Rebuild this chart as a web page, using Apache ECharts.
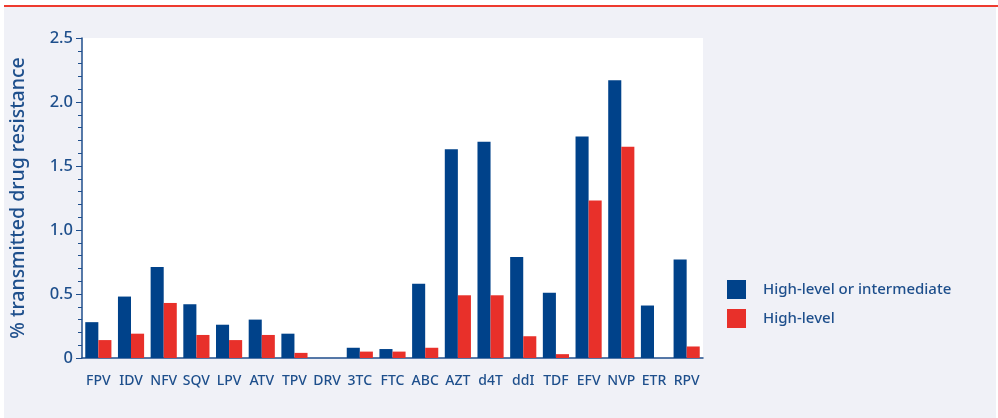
<!DOCTYPE html>
<html>
<head>
<meta charset="utf-8">
<script src="https://cdn.jsdelivr.net/npm/echarts@6/dist/echarts.min.js"></script>
<style>
html,body{margin:0;padding:0;background:#fff;width:998px;height:418px;overflow:hidden;}
#bg{position:absolute;left:4px;top:7px;width:992px;height:411px;background:#f0f1f7;}
#rl{position:absolute;left:4px;top:5px;width:994px;height:2px;background:#ee3a2e;}
#chart{position:absolute;left:0;top:0;width:998px;height:418px;}
</style>
</head>
<body>
<div id="bg"></div>
<div id="rl"></div>
<div id="chart"></div>
<script>
const categories = ['FPV','IDV','NFV','SQV','LPV','ATV','TPV','DRV','3TC','FTC','ABC','AZT','d4T','ddI','TDF','EFV','NVP','ETR','RPV'];
const highOrIntermediate = [0.28,0.48,0.71,0.42,0.26,0.30,0.19,0,0.08,0.07,0.58,1.63,1.69,0.79,0.51,1.73,2.17,0.41,0.77];
const highLevel = [0.14,0.19,0.43,0.18,0.14,0.18,0.04,0,0.05,0.05,0.08,0.49,0.49,0.17,0.03,1.23,1.65,0,0.09];
const seriesNames = ['High-level or intermediate','High-level'];
const yAxisName = '% transmitted drug resistance';

const textColor = '#1e4f8c';
const axisColor = '#1f4e8c';
const font = 'Noto Sans';
const chart = echarts.init(document.getElementById('chart'));
chart.setOption({
  backgroundColor: 'transparent',
  animation: false,
  textStyle: {fontFamily: font},
  grid: {left: 80, right: 295, top: 38, bottom: 60, show: true, backgroundColor: '#ffffff', borderWidth: 0},
  legend: {
    orient: 'vertical', left: 722, top: 275, itemWidth: 19, itemHeight: 19, itemGap: 10,
    icon: 'rect',
    textStyle: {color: textColor, fontSize: 15, fontWeight: 500, fontFamily: font, padding: [0,0,0,12]},
    data: seriesNames
  },
  xAxis: {
    type: 'category', data: categories,
    axisLine: {lineStyle: {color: axisColor, width: 1.5}},
    axisTick: {show: false},
    axisLabel: {color: textColor, fontSize: 14, fontWeight: 500, margin: 16, interval: 0, fontFamily: font}
  },
  yAxis: {
    type: 'value', min: 0, max: 2.5, interval: 0.5,
    name: yAxisName, nameLocation: 'middle', nameGap: 54,
    nameTextStyle: {color: textColor, fontSize: 19.5, fontWeight: 500, fontFamily: font},
    axisLine: {show: true, lineStyle: {color: axisColor, width: 1.5}},
    axisTick: {show: true, length: 6, lineStyle: {color: axisColor, width: 1}},
    minorTick: {show: true, splitNumber: 5, length: 4, lineStyle: {color: axisColor, width: 1}},
    splitLine: {show: false},
    axisLabel: {color: textColor, fontSize: 16.5, fontWeight: 500, margin: 9, fontFamily: font,
      formatter: v => v === 0 ? '0' : v.toFixed(1)}
  },
  series: [
    {name: seriesNames[0], type: 'bar', data: highOrIntermediate, barGap: '0%', barCategoryGap: '20%',
     itemStyle: {color: '#00428a'}},
    {name: seriesNames[1], type: 'bar', data: highLevel, barGap: '0%', barCategoryGap: '20%',
     itemStyle: {color: '#e8302a'}}
  ]
});
</script>
</body>
</html>
